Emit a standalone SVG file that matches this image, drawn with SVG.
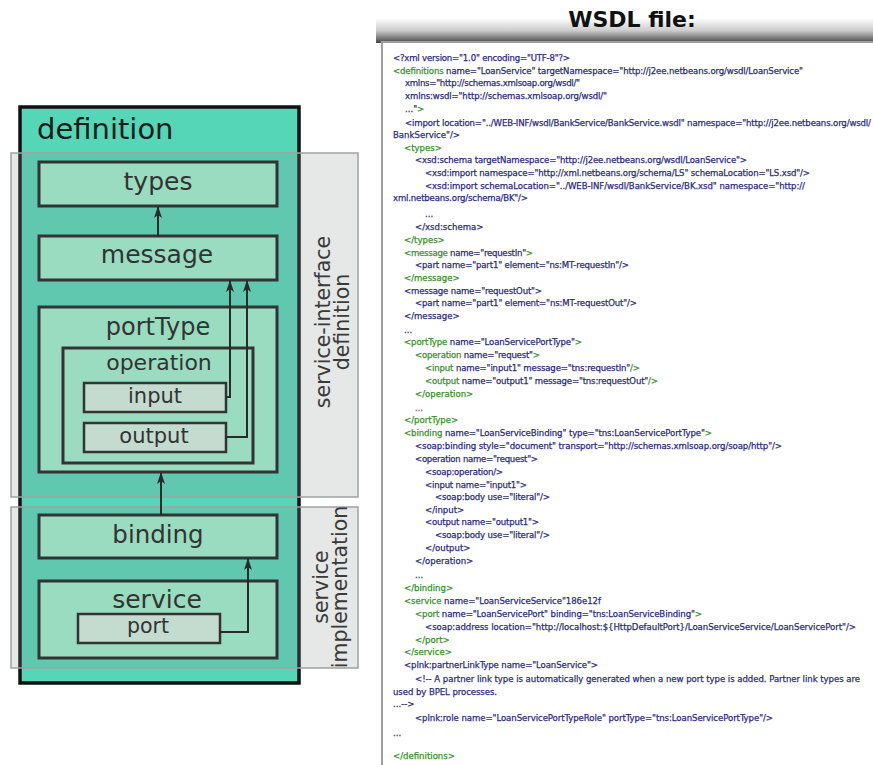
<svg xmlns="http://www.w3.org/2000/svg" width="873" height="765" viewBox="0 0 873 765">
<defs>
<linearGradient id="topShadow" x1="0" y1="0" x2="0" y2="1">
<stop offset="0" stop-color="#ffffff"/>
<stop offset="0.5" stop-color="#cccccc"/>
<stop offset="1" stop-color="#454545"/>
</linearGradient>
<marker id="arr" markerWidth="12" markerHeight="8" refX="11" refY="4" orient="auto" markerUnits="userSpaceOnUse">
<path d="M0,0 L12,4 L0,8 L3,4 z" fill="#2a2a2a"/>
</marker>
</defs>
<style>
.box{fill:#9adcc0;stroke:#333;stroke-width:3}
.sub{fill:#c4dccf;stroke:#333;stroke-width:2.5}
.lbl{font-family:"DejaVu Sans",sans-serif;fill:#333;text-anchor:middle}
.side{font-family:"DejaVu Sans",sans-serif;fill:#3a3a3a;font-size:20.5px;text-anchor:middle}
.grp{fill:#8a9590;fill-opacity:0.22;stroke:#9ea3a0;stroke-width:1.5}
.con{fill:none;stroke:#2a2a2a;stroke-width:2;marker-end:url(#arr)}
.c{font-family:"DejaVu Sans Condensed","DejaVu Sans",sans-serif;font-size:9.5px;fill:#2b2c7e;stroke:#2b2c7e;stroke-width:0.25}
.g{fill:#3a8f2c;stroke:#3a8f2c}
.r{fill:#c0392b;stroke:#c0392b}
</style>
<rect width="873" height="765" fill="#ffffff"/>

<!-- Left diagram -->
<g id="definition">
<rect x="20" y="107" width="279" height="576" fill="#55d6b6" stroke="#111" stroke-width="3.5"/>
<text x="37" y="139" style="font-family:'DejaVu Sans',sans-serif;font-size:29px;fill:#1a1a1a">definition</text>
</g>
<g id="service-interface-definition">
<rect class="grp" x="11" y="153" width="347" height="344"/>
<text class="side" transform="translate(330,322) rotate(-90)">service-interface</text>
<text class="side" transform="translate(349,322) rotate(-90)">definition</text>
</g>
<g id="service-implementation">
<rect class="grp" x="11" y="507" width="347" height="161"/>
<text class="side" transform="translate(328,587) rotate(-90)">service</text>
<text class="side" transform="translate(347,587) rotate(-90)">implementation</text>
</g>
<g id="types">
<rect class="box" x="39" y="162" width="238" height="44"/>
<text class="lbl" x="158" y="190" font-size="25">types</text>
</g>
<g id="message">
<rect class="box" x="39" y="236" width="238" height="44"/>
<text class="lbl" x="157" y="263" font-size="25">message</text>
</g>
<g id="portType">
<rect class="box" x="39" y="307" width="238" height="165"/>
<text class="lbl" x="158" y="335" font-size="24">portType</text>
</g>
<g id="operation">
<rect class="box" x="63" y="348" width="190" height="115"/>
<text class="lbl" x="159" y="370" font-size="22">operation</text>
</g>
<g id="input">
<rect class="sub" x="84" y="383" width="142" height="29"/>
<text class="lbl" x="155" y="403" font-size="21">input</text>
</g>
<g id="output">
<rect class="sub" x="84" y="423" width="142" height="29"/>
<text class="lbl" x="154" y="443" font-size="21">output</text>
</g>
<g id="binding">
<rect class="box" x="39" y="515" width="238" height="43"/>
<text class="lbl" x="158" y="543" font-size="24.5">binding</text>
</g>
<g id="service">
<rect class="box" x="39" y="581" width="238" height="77"/>
<text class="lbl" x="157" y="608" font-size="25">service</text>
</g>
<g id="port">
<rect class="sub" x="78" y="614" width="142" height="29"/>
<text class="lbl" x="148" y="633" font-size="20.5">port</text>
</g>
<g id="connectors">
<path class="con" d="M158,236 V207"/>
<path class="con" d="M226,397 H230 V281"/>
<path class="con" d="M226,437 H247 V281"/>
<path class="con" d="M161,515 V473"/>
<path class="con" d="M220,632 H248 V559"/>
</g>

<!-- WSDL panel -->
<g id="wsdl-file">
<rect x="376" y="18" width="497" height="25" fill="url(#topShadow)"/>
<rect x="382" y="42" width="492" height="724" fill="#ffffff" stroke="#a0a0a0" stroke-width="2"/>
<text x="632" y="27" text-anchor="middle" style="font-family:'DejaVu Sans',sans-serif;font-weight:bold;font-size:22px;fill:#111">WSDL file:</text>
</g>
<g id="wsdl-text" class="c">
<text x="393" y="61" textLength="177">&lt;?xml version="1.0" encoding="UTF-8"?&gt;</text>
<text x="393" y="74" textLength="410"><tspan class="g">&lt;definitions</tspan> name="LoanService" targetNamespace="http://j2ee.netbeans.org/wsdl/LoanService"</text>
<text x="405" y="86" textLength="175">xmlns="http://schemas.xmlsoap.org/wsdl/"</text>
<text x="405" y="99" textLength="202">xmlns:wsdl="http://schemas.xmlsoap.org/wsdl/"</text>
<text x="405" y="112">..."<tspan class="g">&gt;</tspan></text>
<text x="405" y="126" textLength="466">&lt;import location="../WEB-INF/wsdl/BankService/BankService.wsdl" namespace="http://j2ee.netbeans.org/wsdl/</text>
<text x="393" y="138">BankService"/&gt;</text>
<text x="404" y="151" class="g">&lt;types&gt;</text>
<text x="415" y="163" textLength="332">&lt;xsd:schema targetNamespace="http://j2ee.netbeans.org/wsdl/LoanService"&gt;</text>
<text x="425" y="176" textLength="385">&lt;xsd:import namespace="http://xml.netbeans.org/schema/LS" schemaLocation="LS.xsd"/&gt;</text>
<text x="425" y="189" textLength="380">&lt;xsd:import schemaLocation="../WEB-INF/wsdl/BankService/BK.xsd" namespace="http://</text>
<text x="393" y="201" textLength="135">xml.netbeans.org/schema/BK"/&gt;</text>
<text x="425" y="217">...</text>
<text x="415" y="230">&lt;/xsd:schema&gt;</text>
<text x="404" y="243" class="g">&lt;/types&gt;</text>
<text x="404" y="256" textLength="129"><tspan class="g">&lt;message</tspan> name="requestIn"<tspan class="g">&gt;</tspan></text>
<text x="415" y="268" textLength="214">&lt;part name="part1" element="ns:MT-requestIn"/&gt;</text>
<text x="404" y="281" class="g">&lt;/message&gt;</text>
<text x="404" y="294" textLength="138">&lt;message name="requestOut"&gt;</text>
<text x="415" y="306" textLength="222">&lt;part name="part1" element="ns:MT-requestOut"/&gt;</text>
<text x="404" y="319">&lt;/message&gt;</text>
<text x="404" y="333">...</text>
<text x="404" y="345" textLength="178"><tspan class="g">&lt;portType</tspan> name="LoanServicePortType"<tspan class="g">&gt;</tspan></text>
<text x="415" y="358" textLength="125"><tspan class="g">&lt;operation</tspan> name="request"<tspan class="g">&gt;</tspan></text>
<text x="425" y="371" textLength="215"><tspan class="g">&lt;input</tspan> name="input1" message="tns:requestIn"<tspan class="g">/&gt;</tspan></text>
<text x="425" y="384" textLength="233"><tspan class="g">&lt;output</tspan> name="output1" message="tns:requestOut"<tspan class="g">/&gt;</tspan></text>
<text x="415" y="397" class="g">&lt;/operation&gt;</text>
<text x="415" y="411" class="r">...</text>
<text x="404" y="423" class="g">&lt;/portType&gt;</text>
<text x="404" y="436" textLength="308"><tspan class="g">&lt;binding</tspan> name="LoanServiceBinding" type="tns:LoanServicePortType"<tspan class="g">&gt;</tspan></text>
<text x="415" y="449" textLength="367">&lt;soap:binding style="document" transport="http://schemas.xmlsoap.org/soap/http"/&gt;</text>
<text x="415" y="462" textLength="123">&lt;operation name="request"&gt;</text>
<text x="425" y="475" textLength="78">&lt;soap:operation/&gt;</text>
<text x="425" y="488" textLength="102">&lt;input name="input1"&gt;</text>
<text x="435" y="500" textLength="115">&lt;soap:body use="literal"/&gt;</text>
<text x="425" y="513">&lt;/input&gt;</text>
<text x="425" y="525" textLength="114">&lt;output name="output1"&gt;</text>
<text x="435" y="538" textLength="115">&lt;soap:body use="literal"/&gt;</text>
<text x="425" y="551">&lt;/output&gt;</text>
<text x="415" y="564">&lt;/operation&gt;</text>
<text x="415" y="578">...</text>
<text x="404" y="591" class="g">&lt;/binding&gt;</text>
<text x="404" y="604" textLength="197"><tspan class="g">&lt;service</tspan> name="LoanServiceService"186e12f</text>
<text x="415" y="617" textLength="287"><tspan class="g">&lt;port</tspan> name="LoanServicePort" binding="tns:LoanServiceBinding"<tspan class="g">&gt;</tspan></text>
<text x="425" y="630" textLength="431">&lt;soap:address location="http://localhost:${HttpDefaultPort}/LoanServiceService/LoanServicePort"/&gt;</text>
<text x="415" y="643" class="g">&lt;/port&gt;</text>
<text x="404" y="655" class="g">&lt;/service&gt;</text>
<text x="404" y="668" textLength="194">&lt;plnk:partnerLinkType name="LoanService"&gt;</text>
<text x="415" y="682" textLength="445">&lt;!-- A partner link type is automatically generated when a new port type is added. Partner link types are</text>
<text x="393" y="695" textLength="104">used by BPEL processes.</text>
<text x="393" y="707">...--&gt;</text>
<text x="415" y="721" textLength="358">&lt;plnk:role name="LoanServicePortTypeRole" portType="tns:LoanServicePortType"/&gt;</text>
<text x="393" y="736">...</text>
<text x="393" y="759" class="g">&lt;/definitions&gt;</text>
</g>
</svg>
